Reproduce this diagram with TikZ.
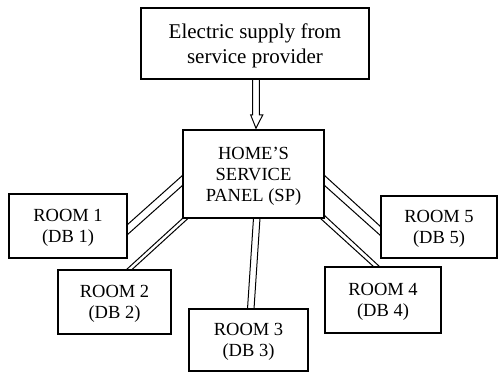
\documentclass[tikz,border=0pt]{standalone}
\usepackage{fontspec}
\setmainfont{Liberation Serif}
\usetikzlibrary{calc}
\tikzset{
  boxnode/.style={draw, line width=1.6pt, inner sep=0pt, outer sep=0pt, align=center,
    text depth=0pt, font=\fontsize{18.5}{21}\selectfont},
  topnode/.style={boxnode, font=\fontsize{21}{25}\selectfont},
  wire/.style={draw, line width=1pt},
}
\begin{document}
\begin{tikzpicture}[x=1pt,y=-1pt]
\useasboundingbox (0,0) rectangle (498,374);
\node[topnode, minimum width=228pt, minimum height=71pt] (top) at (255,43.5) {Electric supply from\\service provider};
\node[boxnode, minimum width=141pt, minimum height=88pt] (sp) at (253.5,174) {HOME’S\\SERVICE\\PANEL (SP)};
\node[boxnode, minimum width=118pt, minimum height=64pt] (r1) at (68,226) {ROOM 1\\(DB 1)};
\node[boxnode, minimum width=113pt, minimum height=64pt] (r2) at (114.5,302) {ROOM 2\\(DB 2)};
\node[boxnode, minimum width=119pt, minimum height=62pt] (r3) at (248.5,340) {ROOM 3\\(DB 3)};
\node[boxnode, minimum width=116pt, minimum height=66pt] (r4) at (383,300) {ROOM 4\\(DB 4)};
\node[boxnode, minimum width=116pt, minimum height=62pt] (r5) at (439,227) {ROOM 5\\(DB 5)};
% supply arrow
\draw[wire, line join=miter] ($(top.south)+(-2.3,0)$) -- ($(top.south)+(-2.3,36)$) -- ($(top.south)+(-4.3,36)$)
  -- ($(sp.north)+(2.5,-1.7)$) -- ($(top.south)+(7.7,36)$) -- ($(top.south)+(4.3,36)$) -- ($(top.south)+(4.3,0)$);
% room 1
\draw[wire] ($(sp.north west)+(0,45)$) -- ($(r1.north east)+(0,31)$);
\draw[wire] ($(sp.north west)+(0,55)$) -- ($(r1.north east)+(0,41)$);
% room 2
\draw[wire] ($(sp.south west)+(0,0)$) -- ($(r2.north west)+(68,0)$);
\draw[wire] ($(sp.south west)+(5.5,0)$) -- ($(r2.north west)+(73.5,0)$);
% room 3
\draw[wire] ($(sp.south)+(0,0)$) -- ($(r3.north)+(-1,0)$);
\draw[wire] ($(sp.south)+(6.5,0)$) -- ($(r3.north)+(5.5,0)$);
% room 4
\draw[wire] ($(sp.south east)+(-4,0)$) -- ($(r4.north west)+(49,0)$);
\draw[wire] ($(sp.south east)+(0,-3)$) -- ($(r4.north west)+(55,0)$);
% room 5
\draw[wire] ($(sp.north east)+(0,45)$) -- ($(r5.north west)+(0,31)$);
\draw[wire] ($(sp.north east)+(0,55)$) -- ($(r5.north west)+(0,40)$);
\end{tikzpicture}
\end{document}
